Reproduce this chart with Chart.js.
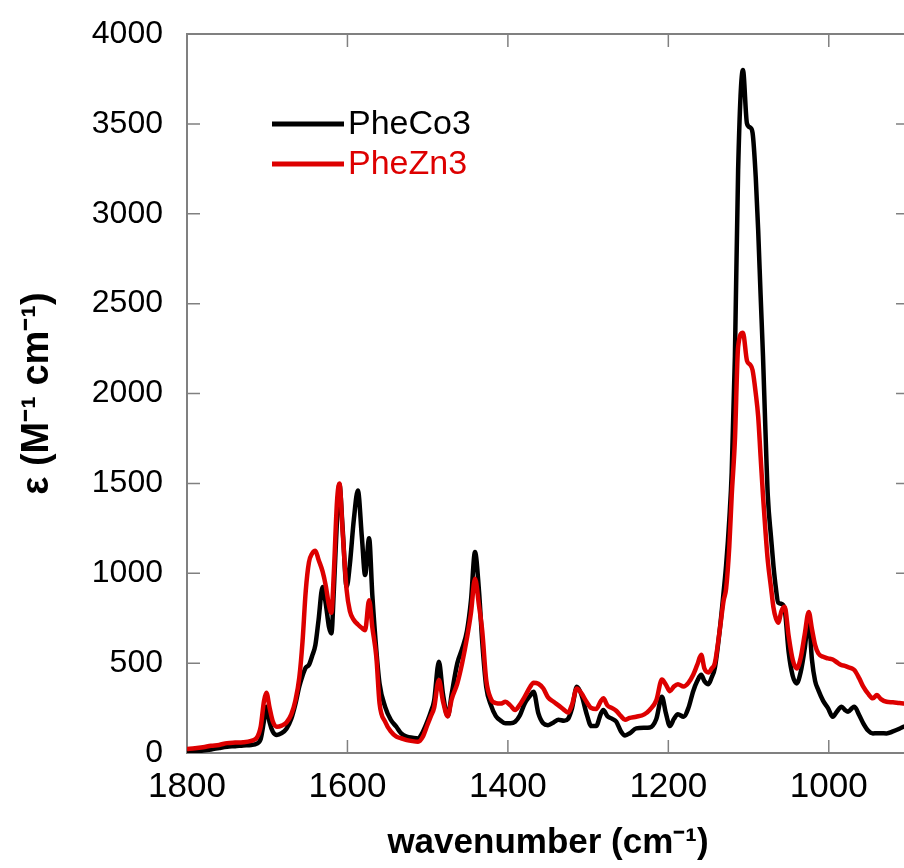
<!DOCTYPE html>
<html>
<head>
<meta charset="utf-8">
<script src="https://cdn.jsdelivr.net/npm/chart.js@4.4.1/dist/chart.umd.min.js"></script>
<style>
  html, body { margin: 0; padding: 0; background: #fff; overflow: hidden; }
  #wrap { width: 912px; height: 868px; }
</style>
</head>
<body>
<div id="wrap"><canvas id="irChart" width="912" height="868"></canvas></div>
<script>
// wavenumber grid (cm-1)
const wavenumbers = [1800, 1790, 1780, 1770, 1760, 1750, 1740, 1730, 1720, 1713, 1708, 1704, 1701, 1697, 1693,
    1688, 1682, 1676, 1670, 1665, 1660, 1656, 1652, 1648, 1644, 1640, 1636, 1631, 1627, 1623, 1620, 1617, 1613,
    1610, 1606, 1601, 1597, 1592, 1587, 1582, 1578, 1573, 1569, 1564, 1560, 1553, 1546, 1539, 1533, 1526, 1519,
    1512, 1506, 1500, 1496, 1492, 1486, 1481, 1475, 1470, 1463, 1457, 1451, 1446, 1441, 1436, 1432, 1427, 1421,
    1415, 1409, 1403, 1397, 1391, 1385, 1379, 1372, 1368, 1362, 1356, 1350, 1343, 1337, 1330, 1325, 1320, 1314,
    1308, 1302, 1296, 1290, 1284, 1281, 1276, 1270, 1265, 1259, 1254, 1248, 1240, 1230, 1223, 1215, 1208, 1203,
    1198, 1193, 1188, 1181, 1175, 1169, 1164, 1159, 1155, 1150, 1146, 1142, 1136, 1131, 1128, 1124, 1121, 1117,
    1113, 1107, 1102, 1098, 1095, 1091, 1088, 1085, 1082, 1079, 1076, 1072, 1069, 1066, 1063, 1059, 1055, 1050,
    1045, 1040, 1035, 1030, 1025, 1021, 1017, 1013, 1007, 1001, 995, 990, 984, 980, 976, 971, 968, 962, 957, 951,
    945, 940, 935, 928, 920, 912, 907, 900];

// epsilon (M-1 cm-1)
const pheCo3 = [8, 10, 14, 20, 28, 35, 38, 42, 45, 52, 80, 180, 257, 170, 118,
    100, 110, 135, 190, 270, 370, 430, 475, 490, 540, 600, 740, 924, 830, 700, 665, 900, 1300,
    1495, 1250, 924, 1050, 1300, 1460, 1200, 990, 1195, 880, 572, 387, 257, 185, 146, 109, 91, 85,
    81, 118, 180, 230, 290, 507, 330, 205, 330, 500, 580, 680, 850, 1118, 900, 620, 368, 265,
    205, 180, 165, 165, 174, 210, 276, 320, 341, 220, 165, 155, 170, 185, 180, 190, 250, 368,
    320, 220, 150, 150, 220, 239, 205, 190, 175, 120, 98, 110, 137, 140, 142, 189, 313, 220,
    150, 190, 215, 202, 250, 344, 400, 435, 400, 383, 420, 474, 681, 900, 1043, 1300, 1561, 2208,
    3244, 3800, 3503, 3480, 3450, 3200, 2907, 2550, 2208, 1800, 1432, 1200, 1043, 920, 836, 830, 800, 560,
    430, 387, 450, 580, 748, 520, 400, 350, 290, 250, 202, 230, 257, 240, 230, 250, 257, 210, 165, 125,
    109, 110, 110, 109, 120, 135, 146, 155];

const pheZn3 = [22, 26, 32, 40, 45, 55, 58, 60, 68, 85, 150, 290, 335, 250, 175,
    146, 152, 170, 215, 290, 420, 620, 900, 1060, 1110, 1125, 1075, 1010, 930, 820, 780, 1000, 1400,
    1500, 1230, 906, 790, 740, 715, 695, 683, 850, 700, 535, 277, 174, 120, 91, 82, 72, 66,
    63, 91, 160, 205, 250, 406, 290, 205, 300, 387, 500, 640, 780, 970, 820, 680, 406, 300,
    278, 275, 285, 265, 239, 270, 313, 370, 391, 385, 360, 310, 285, 265, 240, 225, 270, 359,
    330, 285, 250, 245, 290, 304, 265, 250, 235, 205, 185, 195, 202, 215, 241, 293, 409, 380,
    344, 370, 383, 370, 390, 435, 490, 546, 470, 448, 470, 500, 681, 850, 914, 1150, 1432, 1742,
    2260, 2338, 2183, 2160, 2130, 2000, 1872, 1650, 1432, 1240, 1069, 920, 810, 750, 725, 790, 813, 650,
    520, 470, 530, 660, 785, 690, 600, 554, 535, 526, 520, 505, 489, 485, 478, 470, 461, 415, 369, 330,
    304, 322, 300, 285, 282, 278, 276, 274];

const seriesLabels = ['PheCo3', 'PheZn3'];
const seriesColors = ['#000000', '#dd0000'];
const xTicks = [1000, 1200, 1400, 1600, 1800];
const yTicks = [0, 500, 1000, 1500, 2000, 2500, 3000, 3500, 4000];

const frameColor = '#808080';

function toPoints(values) {
    return wavenumbers.map((w, i) => ({ x: w, y: values[i] }));
}

// box frame with ticks pointing inward, like the original plot
const framePlugin = {
    id: 'frame',
    beforeDatasetsDraw(chart) {
        const { ctx, chartArea: a, scales: { x, y } } = chart;
        ctx.save();
        ctx.strokeStyle = frameColor;
        ctx.lineWidth = 2;
        ctx.beginPath();
        ctx.moveTo(a.left, a.top);
        ctx.lineTo(a.right, a.top);
        ctx.lineTo(a.right, a.bottom);
        ctx.stroke();
        ctx.lineWidth = 1.5;
        const len = 13;
        ctx.beginPath();
        xTicks.forEach(v => {
            const px = x.getPixelForValue(v);
            ctx.moveTo(px, a.bottom);
            ctx.lineTo(px, a.bottom - len);
            ctx.moveTo(px, a.top);
            ctx.lineTo(px, a.top + len);
        });
        yTicks.forEach(v => {
            const py = y.getPixelForValue(v);
            ctx.moveTo(a.left, py);
            ctx.lineTo(a.left + len, py);
            ctx.moveTo(a.right, py);
            ctx.lineTo(a.right - len, py);
        });
        ctx.stroke();
        ctx.restore();
    }
};

// legend drawn inside the plot area
const insideLegend = {
    id: 'insideLegend',
    afterDraw(chart) {
        const ctx = chart.ctx;
        ctx.save();
        ctx.font = '34px "Liberation Sans", Arial, sans-serif';
        ctx.textBaseline = 'middle';
        chart.data.datasets.slice().sort((p, q) => p.legendRank - q.legendRank).forEach((ds, i) => {
            const yy = 124 + i * 40;
            ctx.strokeStyle = ds.borderColor;
            ctx.lineWidth = 5;
            ctx.beginPath();
            ctx.moveTo(272, yy);
            ctx.lineTo(344, yy);
            ctx.stroke();
            ctx.fillStyle = ds.borderColor;
            ctx.fillText(ds.label, 348, yy + 1);
        });
        ctx.restore();
    }
};

const ctx = document.getElementById('irChart').getContext('2d');
new Chart(ctx, {
    type: 'line',
    data: {
        datasets: [
            {
                label: seriesLabels[1],
                data: toPoints(pheZn3),
                borderColor: seriesColors[1],
                borderWidth: 4.5,
                pointRadius: 0,
                cubicInterpolationMode: 'monotone',
                order: 0,
                legendRank: 1
            },
            {
                label: seriesLabels[0],
                data: toPoints(pheCo3),
                borderColor: seriesColors[0],
                borderWidth: 4.5,
                pointRadius: 0,
                cubicInterpolationMode: 'monotone',
                order: 1,
                legendRank: 0
            }
        ]
    },
    options: {
        responsive: false,
        devicePixelRatio: 1,
        animation: false,
        layout: { padding: { top: 34, right: 3, left: 0, bottom: 0 } },
        plugins: {
            legend: { display: false },
            tooltip: { enabled: false }
        },
        scales: {
            x: {
                type: 'linear',
                min: 900,
                max: 1800,
                reverse: true,
                afterBuildTicks: scale => { scale.ticks = xTicks.map(v => ({ value: v })); },
                afterFit: scale => { scale.height = 115; },
                // tick marks are drawn by the frame plugin, tickLength only spaces the labels
                grid: { display: false, drawTicks: true, tickLength: 13 },
                border: { display: true, color: frameColor, width: 2 },
                ticks: {
                    color: '#000',
                    padding: 0,
                    maxRotation: 0,
                    autoSkip: false,
                    callback: v => String(v),
                    font: { family: '"Liberation Sans", Arial, sans-serif', size: 35 }
                },
                title: {
                    display: true,
                    text: 'wavenumber (cm⁻¹)',
                    color: '#000',
                    padding: { top: 0, bottom: 4 },
                    font: { family: '"Liberation Sans", Arial, sans-serif', size: 35, weight: 'bold' }
                }
            },
            y: {
                min: 0,
                max: 4000,
                afterBuildTicks: scale => { scale.ticks = yTicks.map(v => ({ value: v })); },
                afterFit: scale => { scale.width = 187; },
                grid: { display: false, drawTicks: true, tickLength: 24 },
                border: { display: true, color: frameColor, width: 2 },
                ticks: {
                    color: '#000',
                    padding: 0,
                    callback: v => String(v),
                    font: { family: '"Liberation Sans", Arial, sans-serif', size: 32 }
                },
                title: {
                    display: true,
                    text: 'ε (M⁻¹ cm⁻¹)',
                    color: '#000',
                    padding: { top: 15, bottom: 0 },
                    font: { family: '"Liberation Sans", Arial, sans-serif', size: 38, weight: 'bold' }
                }
            }
        }
    },
    plugins: [framePlugin, insideLegend]
});
</script>
</body>
</html>
